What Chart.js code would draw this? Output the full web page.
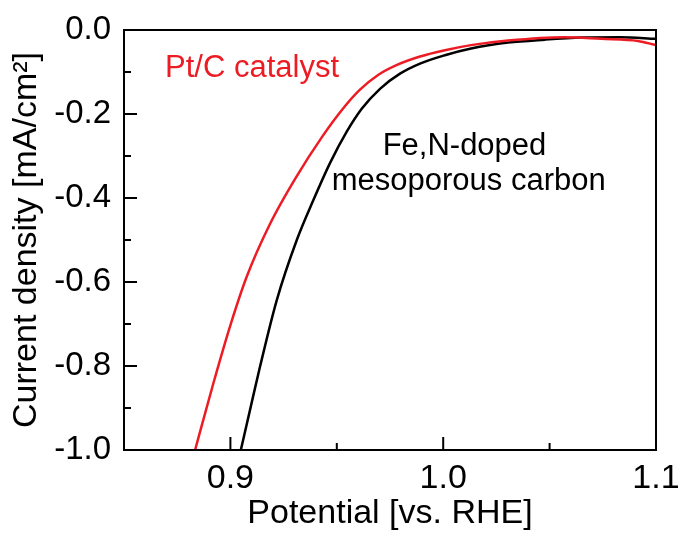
<!DOCTYPE html>
<html>
<head>
<meta charset="utf-8">
<script src="https://cdn.jsdelivr.net/npm/chart.js@4.4.0/dist/chart.umd.min.js"></script>
<style>
  html, body { margin: 0; padding: 0; background: #fff; }
  #wrap { width: 682px; height: 540px; }
</style>
</head>
<body>
<div id="wrap"><canvas id="lsv-chart" width="682" height="540"></canvas></div>
<script>
// Pt/C catalyst
const ptcPotential = [0.8834, 0.8920, 0.8998, 0.9077, 0.9186, 0.9312, 0.9430, 0.9539, 0.9609, 0.9694, 0.9783, 0.9891, 1.0008, 1.0131, 1.0305, 1.0568, 1.0742, 1.0915, 1.1000];
const ptcCurrent   = [-1.000, -0.841, -0.706, -0.587, -0.462, -0.348, -0.255, -0.181, -0.142, -0.107, -0.083, -0.063, -0.048, -0.036, -0.025, -0.017, -0.021, -0.026, -0.036];

// Fe,N-doped mesoporous carbon
const fenPotential = [0.9049, 0.9092, 0.9139, 0.9218, 0.9312, 0.9390, 0.9468, 0.9548, 0.9618, 0.9703, 0.9797, 0.9891, 1.0008, 1.0131, 1.0305, 1.0478, 1.0652, 1.0831, 1.1000];
const fenCurrent   = [-1.000, -0.905, -0.802, -0.643, -0.500, -0.405, -0.317, -0.241, -0.187, -0.140, -0.104, -0.080, -0.060, -0.044, -0.030, -0.023, -0.018, -0.017, -0.021];

// Ejes
const xTickLabels = [0.9, 1.0, 1.1];
const xMinorTicks = [0.95, 1.05];
const yTickLabels = [0.0, -0.2, -0.4, -0.6, -0.8, -1.0];
const yMinorTicks = [-0.1, -0.3, -0.5, -0.7, -0.9];

const ptcLabel = 'Pt/C catalyst';
const fenLabel = ['Fe,N-doped', 'mesoporous carbon'];

const RED = '#ed1c24';
const FONT = '"Liberation Sans", Arial, Helvetica, sans-serif';

Chart.defaults.font.family = FONT;
Chart.defaults.color = '#000';

function toPoints(xs, ys) {
    return xs.map((v, i) => ({ x: v, y: ys[i] }));
}

// Marco, ticks hacia dentro y etiquetas de las curvas
const framePlugin = {
    id: 'frame',
    afterDatasetsDraw(chart) {
        const { ctx, chartArea: a, scales: { x, y } } = chart;
        ctx.save();
        ctx.strokeStyle = '#000';
        ctx.lineWidth = 2;
        ctx.strokeRect(a.left, a.top, a.right - a.left, a.bottom - a.top);

        ctx.beginPath();
        xTickLabels.forEach(v => {
            const px = x.getPixelForValue(v);
            ctx.moveTo(px, a.bottom);
            ctx.lineTo(px, a.bottom - 13);
        });
        xMinorTicks.forEach(v => {
            const px = x.getPixelForValue(v);
            ctx.moveTo(px, a.bottom);
            ctx.lineTo(px, a.bottom - 7);
        });
        yTickLabels.forEach(v => {
            const py = y.getPixelForValue(v);
            ctx.moveTo(a.left, py);
            ctx.lineTo(a.left + 13, py);
        });
        yMinorTicks.forEach(v => {
            const py = y.getPixelForValue(v);
            ctx.moveTo(a.left, py);
            ctx.lineTo(a.left + 7, py);
        });
        ctx.stroke();

        ctx.font = '31px ' + FONT;
        ctx.textBaseline = 'alphabetic';
        ctx.fillStyle = RED;
        ctx.textAlign = 'left';
        ctx.fillText(ptcLabel, x.getPixelForValue(0.8693), y.getPixelForValue(-0.111));

        ctx.fillStyle = '#000';
        ctx.textAlign = 'center';
        ctx.fillText(fenLabel[0], x.getPixelForValue(1.0100), y.getPixelForValue(-0.298));
        ctx.fillText(fenLabel[1], x.getPixelForValue(1.0120), y.getPixelForValue(-0.381));
        ctx.restore();
    }
};

const ctx = document.getElementById('lsv-chart').getContext('2d');
new Chart(ctx, {
    type: 'line',
    data: {
        datasets: [{
            label: ptcLabel,
            data: toPoints(ptcPotential, ptcCurrent),
            borderColor: RED,
            borderWidth: 2.5,
            pointRadius: 0,
            cubicInterpolationMode: 'monotone',
            fill: false
        }, {
            label: fenLabel.join(' '),
            data: toPoints(fenPotential, fenCurrent),
            borderColor: '#000',
            borderWidth: 2.5,
            pointRadius: 0,
            cubicInterpolationMode: 'monotone',
            fill: false
        }]
    },
    options: {
        responsive: false,
        animation: false,
        layout: { padding: { top: 30, right: 26, left: 0, bottom: 0 } },
        plugins: {
            legend: { display: false },
            tooltip: { enabled: false }
        },
        scales: {
            x: {
                type: 'linear',
                min: 0.85,
                max: 1.1,
                grid: { display: false, drawTicks: false },
                border: { display: false },
                afterBuildTicks: s => { s.ticks = xTickLabels.map(v => ({ value: v })); },
                afterFit: s => {
                    s.height = 90;
                    s.paddingLeft = 0;
                    s.paddingRight = 0;
                },
                ticks: {
                    callback: v => v.toFixed(1),
                    font: { size: 34 },
                    color: '#000',
                    padding: 8,
                    maxRotation: 0,
                    autoSkip: false
                },
                title: {
                    display: true,
                    text: 'Potential [vs. RHE]',
                    font: { size: 34 },
                    color: '#000',
                    padding: { top: 0, bottom: 6 }
                }
            },
            y: {
                type: 'linear',
                min: -1.0,
                max: 0.0,
                grid: { display: false, drawTicks: false },
                border: { display: false },
                afterBuildTicks: s => { s.ticks = yTickLabels.map(v => ({ value: v })); },
                afterFit: s => {
                    s.width = 124;
                    s.paddingTop = 0;
                    s.paddingBottom = 0;
                },
                ticks: {
                    callback: v => v.toFixed(1),
                    font: { size: 33 },
                    color: '#000',
                    padding: 13,
                    autoSkip: false
                },
                title: {
                    display: true,
                    text: 'Current density [mA/cm²]',
                    font: { size: 34 },
                    color: '#000',
                    padding: 6
                }
            }
        }
    },
    plugins: [framePlugin]
});
</script>
</body>
</html>
